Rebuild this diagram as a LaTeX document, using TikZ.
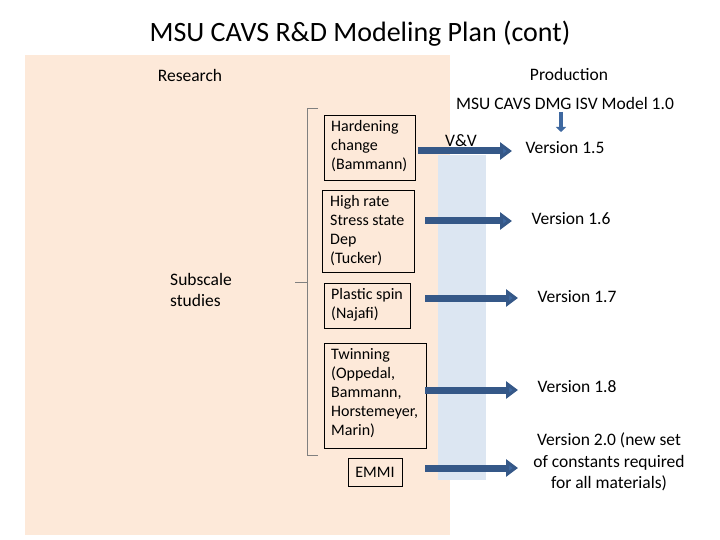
\documentclass[tikz,border=0pt]{standalone}
\usepackage{fontspec}
\setmainfont{Carlito}
\usetikzlibrary{arrows.meta}
\definecolor{peach}{RGB}{253,233,217}
\definecolor{vvblue}{RGB}{220,230,242}
\definecolor{arrowblue}{RGB}{62,104,160}
\begin{document}
\begin{tikzpicture}[x=1pt,y=-1pt,
  box/.style={align=left,inner sep=0pt,anchor=north west,font=\fontsize{16}{19}\selectfont},
  lbl/.style={font=\fontsize{17.5}{21.5}\selectfont,align=center},
  fat/.style={draw=arrowblue!85!black,line width=7pt,-{Triangle[length=12pt,width=17pt,fill=arrowblue]}}]
\useasboundingbox (0,0) rectangle (720,540);
\fill[white] (0,0) rectangle (720,540);
\fill[peach] (25,55) rectangle (450,535);
\fill[vvblue] (438,155) rectangle (486,480);
\node[font=\fontsize{28}{32}\selectfont] (title) at (360,34) {MSU CAVS R\&D Modeling Plan (cont)};
\node[lbl] (research) at (190,75) {Research};
\node[lbl] (production) at (569,74) {Production};
\node[lbl] (model) at (565,103) {MSU CAVS DMG ISV Model 1.0};
\node[lbl,align=left] (subscale) at (201,290) {Subscale\\studies};
\node[lbl] (vv) at (461,141) {V\&V};
% boxes
\draw[fill=peach] (324,115) rectangle (415,180);
\node[box] (b1) at (331,120) {Hardening\\change\\(Bammann)};
\draw[fill=peach] (322,190) rectangle (414,272);
\node[box] (b2) at (330,195) {High rate\\Stress state\\Dep\\(Tucker)};
\draw[fill=peach] (324,283) rectangle (410,328);
\node[box] (b3) at (331,288) {Plastic spin\\(Najafi)};
\draw[fill=peach] (324,343) rectangle (426,448);
\node[box] (b4) at (331,348) {Twinning\\(Oppedal,\\Bammann,\\Horstemeyer,\\Marin)};
\draw[fill=peach] (348,458) rectangle (402,486);
\node[font=\fontsize{16}{19}\selectfont] (b5) at (375,472) {EMMI};
% versions
\node[lbl,anchor=west] (v15) at (522,148) {Version 1.5};
\node[lbl,anchor=west] (v16) at (528,219) {Version 1.6};
\node[lbl,anchor=west] (v17) at (534,297) {Version 1.7};
\node[lbl,anchor=west] (v18) at (534,387) {Version 1.8};
\node[lbl] (v20) at (609,462) {Version 2.0 (new set\\of constants required\\for all materials)};
% arrows
\coordinate (a1) at (418,151); \coordinate (e1) at (512,151);
\coordinate (a2) at (425,221); \coordinate (e2) at (512,221);
\coordinate (a3) at (425,298); \coordinate (e3) at (518,298);
\coordinate (a4) at (425,390); \coordinate (e4) at (518,390);
\coordinate (a5) at (425,468); \coordinate (e5) at (518,468);
\foreach \i in {1,...,5} \draw[fat] (a\i) -- (e\i);
\draw[draw=arrowblue,line width=4pt,-{Triangle[length=5pt,width=10pt]}] (561,112) -- (561,132);
% brace
\draw[gray] (318,108) -- (307,108) -- (307,455) -- (318,455);
\draw[gray] (307,282) -- (295,282);
\end{tikzpicture}
\end{document}
